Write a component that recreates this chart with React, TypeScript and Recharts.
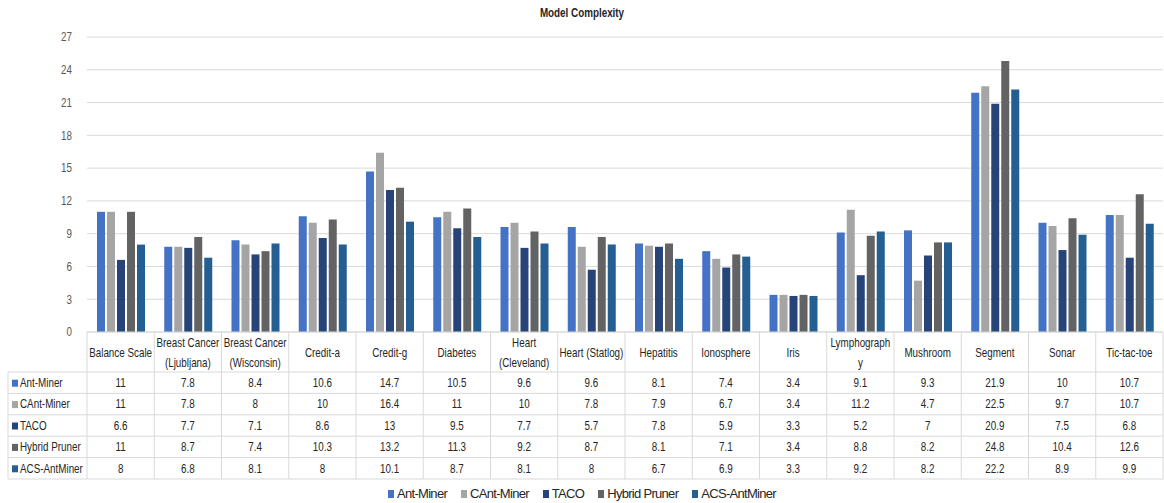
import { BarChart, Bar, XAxis, YAxis, CartesianGrid, Legend } from 'recharts'

const categories = [
  'Balance Scale',
  'Breast Cancer\n(Ljubljana)',
  'Breast Cancer\n(Wisconsin)',
  'Credit-a',
  'Credit-g',
  'Diabetes',
  'Heart\n(Cleveland)',
  'Heart (Statlog)',
  'Hepatitis',
  'Ionosphere',
  'Iris',
  'Lymphograph\ny',
  'Mushroom',
  'Segment',
  'Sonar',
  'Tic-tac-toe',
]

const antMiner = [11, 7.8, 8.4, 10.6, 14.7, 10.5, 9.6, 9.6, 8.1, 7.4, 3.4, 9.1, 9.3, 21.9, 10, 10.7]
const cantMiner = [11, 7.8, 8, 10, 16.4, 11, 10, 7.8, 7.9, 6.7, 3.4, 11.2, 4.7, 22.5, 9.7, 10.7]
const taco = [6.6, 7.7, 7.1, 8.6, 13, 9.5, 7.7, 5.7, 7.8, 5.9, 3.3, 5.2, 7, 20.9, 7.5, 6.8]
const hybridPruner = [11, 8.7, 7.4, 10.3, 13.2, 11.3, 9.2, 8.7, 8.1, 7.1, 3.4, 8.8, 8.2, 24.8, 10.4, 12.6]
const acsAntMiner = [8, 6.8, 8.1, 8, 10.1, 8.7, 8.1, 8, 6.7, 6.9, 3.3, 9.2, 8.2, 22.2, 8.9, 9.9]

const yTicks = [0, 3, 6, 9, 12, 15, 18, 21, 24, 27]

const SERIES = [
  { key: 'antMiner', name: 'Ant-Miner', color: '#4472C4', values: antMiner },
  { key: 'cantMiner', name: 'CAnt-Miner', color: '#A5A5A5', values: cantMiner },
  { key: 'taco', name: 'TACO', color: '#264478', values: taco },
  { key: 'hybridPruner', name: 'Hybrid Pruner', color: '#636363', values: hybridPruner },
  { key: 'acsAntMiner', name: 'ACS-AntMiner', color: '#255E91', values: acsAntMiner },
]

const data = categories.map((name, i) => {
  const row: Record<string, string | number> = { name }
  SERIES.forEach((s) => { row[s.key] = s.values[i] })
  return row
})

const W = 1164
const H = 503
const PLOT_LEFT = 87
const PLOT_RIGHT = 1
const PLOT_TOP = 37
const PLOT_BOTTOM = 332
const TABLE_LEFT = 8
const ROW_TOP = 372
const ROW_H = 21.4
const FONT = '"Liberation Sans", Arial, sans-serif'
const SX = 0.82 // squeeze Arial toward Calibri widths
const LINE = '#d9d9d9'
const TEXT = '#262626'

const colW = (W - PLOT_LEFT - PLOT_RIGHT) / categories.length
const tableBottom = ROW_TOP + ROW_H * SERIES.length

function NText({ x, y, anchor = 'middle', children }: { x: number; y: number; anchor?: string; children: React.ReactNode }) {
  return (
    <text transform={`translate(${x},${y}) scale(${SX},1)`} textAnchor={anchor} dominantBaseline="central">
      {children}
    </text>
  )
}

interface TickProps {
  x: number
  y: number
  index: number
  payload: { value: string | number; index: number }
}

function YTick({ x, y, payload }: TickProps) {
  return (
    <g fontFamily={FONT} fontSize={12} fill="#595959">
      <NText x={x} y={y} anchor="end">{payload.value}</NText>
    </g>
  )
}

function TableTick({ x, payload, index }: TickProps) {
  const left = x - colW / 2
  const lines = String(payload.value).split('\n')
  const last = index === categories.length - 1
  return (
    <g fontFamily={FONT} fontSize={12} fill={TEXT}>
      {index === 0 && (
        <g>
          <line x1={TABLE_LEFT} x2={TABLE_LEFT} y1={ROW_TOP} y2={tableBottom} stroke={LINE} />
          {SERIES.map((s, r) => (
            <g key={s.key}>
              <line x1={TABLE_LEFT} x2={left} y1={ROW_TOP + r * ROW_H} y2={ROW_TOP + r * ROW_H} stroke={LINE} />
              <rect x={TABLE_LEFT + 4} y={ROW_TOP + (r + 0.5) * ROW_H - 3} width={6} height={7} fill={s.color} />
              <NText x={TABLE_LEFT + 12} y={ROW_TOP + (r + 0.5) * ROW_H} anchor="start">
                {s.name}
              </NText>
            </g>
          ))}
          <line x1={TABLE_LEFT} x2={left} y1={tableBottom} y2={tableBottom} stroke={LINE} />
        </g>
      )}
      <line x1={left} x2={left} y1={PLOT_BOTTOM} y2={tableBottom} stroke={LINE} />
      {last && <line x1={left + colW} x2={left + colW} y1={PLOT_BOTTOM} y2={tableBottom} stroke={LINE} />}
      {lines.map((l, k) => (
        <NText key={k} x={x} y={(PLOT_BOTTOM + ROW_TOP) / 2 + 1 + (k - (lines.length - 1) / 2) * 20}>
          {l}
        </NText>
      ))}
      {SERIES.map((s, r) => (
        <g key={s.key}>
          <line x1={left} x2={left + colW} y1={ROW_TOP + r * ROW_H} y2={ROW_TOP + r * ROW_H} stroke={LINE} />
          <NText x={x} y={ROW_TOP + (r + 0.5) * ROW_H}>
            {s.values[payload.index]}
          </NText>
        </g>
      ))}
      <line x1={left} x2={left + colW} y1={tableBottom} y2={tableBottom} stroke={LINE} />
    </g>
  )
}

function LegendContent() {
  return (
    <div style={{ display: 'flex', justifyContent: 'center', gap: 14, fontFamily: FONT, fontSize: 13, color: TEXT }}>
      {SERIES.map((s) => (
        <div key={s.key} style={{ display: 'flex', alignItems: 'center', gap: 3 }}>
          <span style={{ display: 'inline-block', width: 6, height: 8, background: s.color }} />
          <span style={{ display: 'inline-block', letterSpacing: -0.7 }}>{s.name}</span>
        </div>
      ))}
    </div>
  )
}

export default function App() {
  return (
    <div style={{ position: 'absolute', left: 0, top: 0, width: W, height: H, background: '#fff' }}>
      <div
        style={{
          position: 'absolute',
          top: 6,
          left: 0,
          width: W,
          textAlign: 'center',
          fontFamily: FONT,
          fontWeight: 'bold',
          fontSize: 12,
          color: TEXT,
          transform: `scaleX(${SX})`,
        }}
      >
        Model Complexity
      </div>
      <BarChart
        width={W}
        height={H}
        data={data}
        margin={{ top: PLOT_TOP, right: PLOT_RIGHT, bottom: 21, left: 0 }}
        barSize={8}
        barGap={2}
      >
        <CartesianGrid vertical={false} stroke={LINE} />
        <YAxis
          width={PLOT_LEFT}
          domain={[0, 27]}
          ticks={yTicks}
          axisLine={false}
          tickLine={false}
          tickMargin={9}
          tick={(p: TickProps) => <YTick {...p} />}
        />
        <XAxis
          dataKey="name"
          height={H - PLOT_BOTTOM - 21}
          interval={0}
          axisLine={{ stroke: LINE }}
          tickLine={false}
          tick={(p: TickProps) => <TableTick {...p} />}
        />
        <Legend
          layout="horizontal"
          verticalAlign="middle"
          align="center"
          wrapperStyle={{ top: 486, left: 0, width: W }}
          content={() => <LegendContent />}
        />
        {SERIES.map((s) => (
          <Bar key={s.key} dataKey={s.key} name={s.name} fill={s.color} isAnimationActive={false} />
        ))}
      </BarChart>
    </div>
  )
}
